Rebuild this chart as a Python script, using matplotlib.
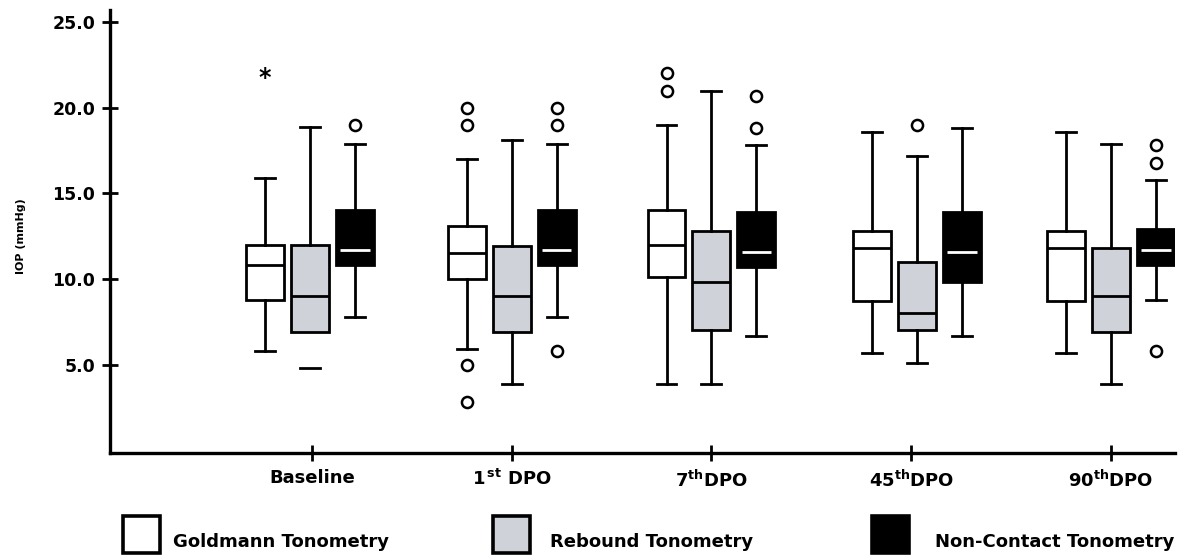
import numpy as np
import matplotlib
matplotlib.use("Agg")
import matplotlib.pyplot as plt
from matplotlib.patches import Rectangle

plt.rcParams['font.family'] = ['DejaVu Sans']
plt.rcParams['font.weight'] = 'bold'
plt.rcParams['mathtext.fontset'] = 'custom'
plt.rcParams['mathtext.rm'] = 'DejaVu Sans:bold'
plt.rcParams['mathtext.it'] = 'DejaVu Sans:bold'
plt.rcParams['mathtext.bf'] = 'DejaVu Sans:bold'

categories = ['Baseline', r'1$^{\,\mathrm{st}}$ DPO', r'7$^{\mathrm{th}}$DPO',
              r'45$^{\mathrm{th}}$DPO', r'90$^{\mathrm{th}}$DPO']
methods = ['Goldmann Tonometry', 'Rebound Tonometry', 'Non-Contact Tonometry']

# Goldmann
gat_whislo = [5.8, 5.9, 3.9, 5.7, 5.7]
gat_q1 = [8.8, 10.0, 10.1, 8.7, 8.7]
gat_med = [10.8, 11.5, 12.0, 11.8, 11.8]
gat_q3 = [12.0, 13.1, 14.0, 12.8, 12.8]
gat_whishi = [15.9, 17.0, 19.0, 18.6, 18.6]
gat_fliers = [[], [20.0, 19.0, 5.0, 2.8], [22.0, 21.0], [], []]
gat_extreme = [[21.9], [], [], [], []]

# Rebound
rbt_whislo = [4.8, 3.9, 3.9, 5.1, 3.9]
rbt_q1 = [6.9, 6.9, 7.0, 7.0, 6.9]
rbt_med = [9.0, 9.0, 9.8, 8.0, 9.0]
rbt_q3 = [12.0, 11.9, 12.8, 11.0, 11.8]
rbt_whishi = [18.9, 18.1, 21.0, 17.2, 17.9]
rbt_fliers = [[], [], [], [19.0], []]

# Non-contact
nct_whislo = [7.8, 7.8, 6.7, 6.7, 8.8]
nct_q1 = [10.8, 10.8, 10.7, 9.8, 10.8]
nct_med = [11.7, 11.7, 11.6, 11.6, 11.7]
nct_q3 = [14.0, 14.0, 13.9, 13.9, 12.9]
nct_whishi = [17.9, 17.9, 17.8, 18.8, 15.8]
nct_fliers = [[19.0], [20.0, 19.0, 5.8], [20.7, 18.8], [], [17.8, 16.8, 5.8]]

yticks = [5, 10, 15, 20, 25]

fig = plt.figure(figsize=(11.87, 5.55), dpi=100)
ax = fig.add_axes([0.0927, 0.1838, 0.8972, 0.7982])

x = np.arange(1, len(categories) + 1)
group_shift = np.array([-0.01, 0, 0, 0.03, 0])
offset = 0.225
width = 0.19
lw = 2.0


def make_stats(whislo, q1, med, q3, whishi, fliers):
    return [dict(whislo=a, q1=b, med=c, q3=d, whishi=e, fliers=f)
            for a, b, c, d, e, f in zip(whislo, q1, med, q3, whishi, fliers)]


series = [
    (make_stats(gat_whislo, gat_q1, gat_med, gat_q3, gat_whishi, gat_fliers), -offset, 'white', 'black'),
    (make_stats(rbt_whislo, rbt_q1, rbt_med, rbt_q3, rbt_whishi, rbt_fliers), 0, '#cfd3d9', 'black'),
    (make_stats(nct_whislo, nct_q1, nct_med, nct_q3, nct_whishi, nct_fliers), offset, 'black', 'white'),
]

results = []
for stats, off, fc, mc in series:
    pos = x + group_shift + off
    r = ax.bxp(stats, positions=pos, widths=width, capwidths=0.1,
               patch_artist=True, showfliers=True, manage_ticks=False,
               boxprops=dict(facecolor=fc, edgecolor='black', linewidth=lw),
               medianprops=dict(color=mc, linewidth=lw),
               whiskerprops=dict(color='black', linewidth=lw),
               capprops=dict(color='black', linewidth=lw),
               flierprops=dict(marker='o', markersize=8, markerfacecolor='white',
                               markeredgecolor='black', markeredgewidth=1.8,
                               linestyle='none'))
    results.append(r)

# Rebound baseline: lower whisker line not drawn, only its cap
results[1]['whiskers'][0].set_visible(False)

# white medians of the non-contact boxes sit inside the box edge
for line in results[2]['medians']:
    xd = np.asarray(line.get_xdata(), dtype=float)
    c = xd.mean()
    line.set_xdata(c + (xd - c) * 0.78)

# extreme values (asterisk)
for i, vals in enumerate(gat_extreme):
    for v in vals:
        ax.text(x[i] + group_shift[i] - offset, v, '*', fontsize=17,
                fontweight='bold', ha='center', va='center_baseline')

ax.set_xlim(-0.01, 5.32)
ax.set_ylim(-0.15, 25.7)
ax.set_xticks(x)
ax.set_xticklabels(categories, fontsize=13, fontweight='bold')
ax.set_yticks(yticks)
ax.set_yticklabels([f'{t:.1f}' for t in yticks], fontsize=12.5, fontweight='bold')
ax.tick_params(axis='both', direction='inout', length=11.5, width=2, color='black')
ax.tick_params(axis='x', pad=6)
ax.tick_params(axis='y', pad=5)
ax.set_ylabel('IOP (mmHg)', fontsize=8, fontweight='bold')
ax.yaxis.set_label_coords(-0.079, 0.49)

for s in ['top', 'right']:
    ax.spines[s].set_visible(False)
for s in ['left', 'bottom']:
    ax.spines[s].set_linewidth(2.4)

# legend drawn below the axes
legend_colors = ['white', '#cfd3d9', 'black']
legend_x = [0.1036, 0.4153, 0.7346]
text_x = [0.1457, 0.4634, 0.7877]
for lx, tx, col, name in zip(legend_x, text_x, legend_colors, methods):
    fig.add_artist(Rectangle((lx, 0.0045), 0.0315, 0.066, transform=fig.transFigure,
                             facecolor=col, edgecolor='black', linewidth=2.6))
    fig.text(tx, 0.0144, name, fontsize=13, fontweight='bold', va='baseline')

fig.savefig('out.png', dpi=100)
